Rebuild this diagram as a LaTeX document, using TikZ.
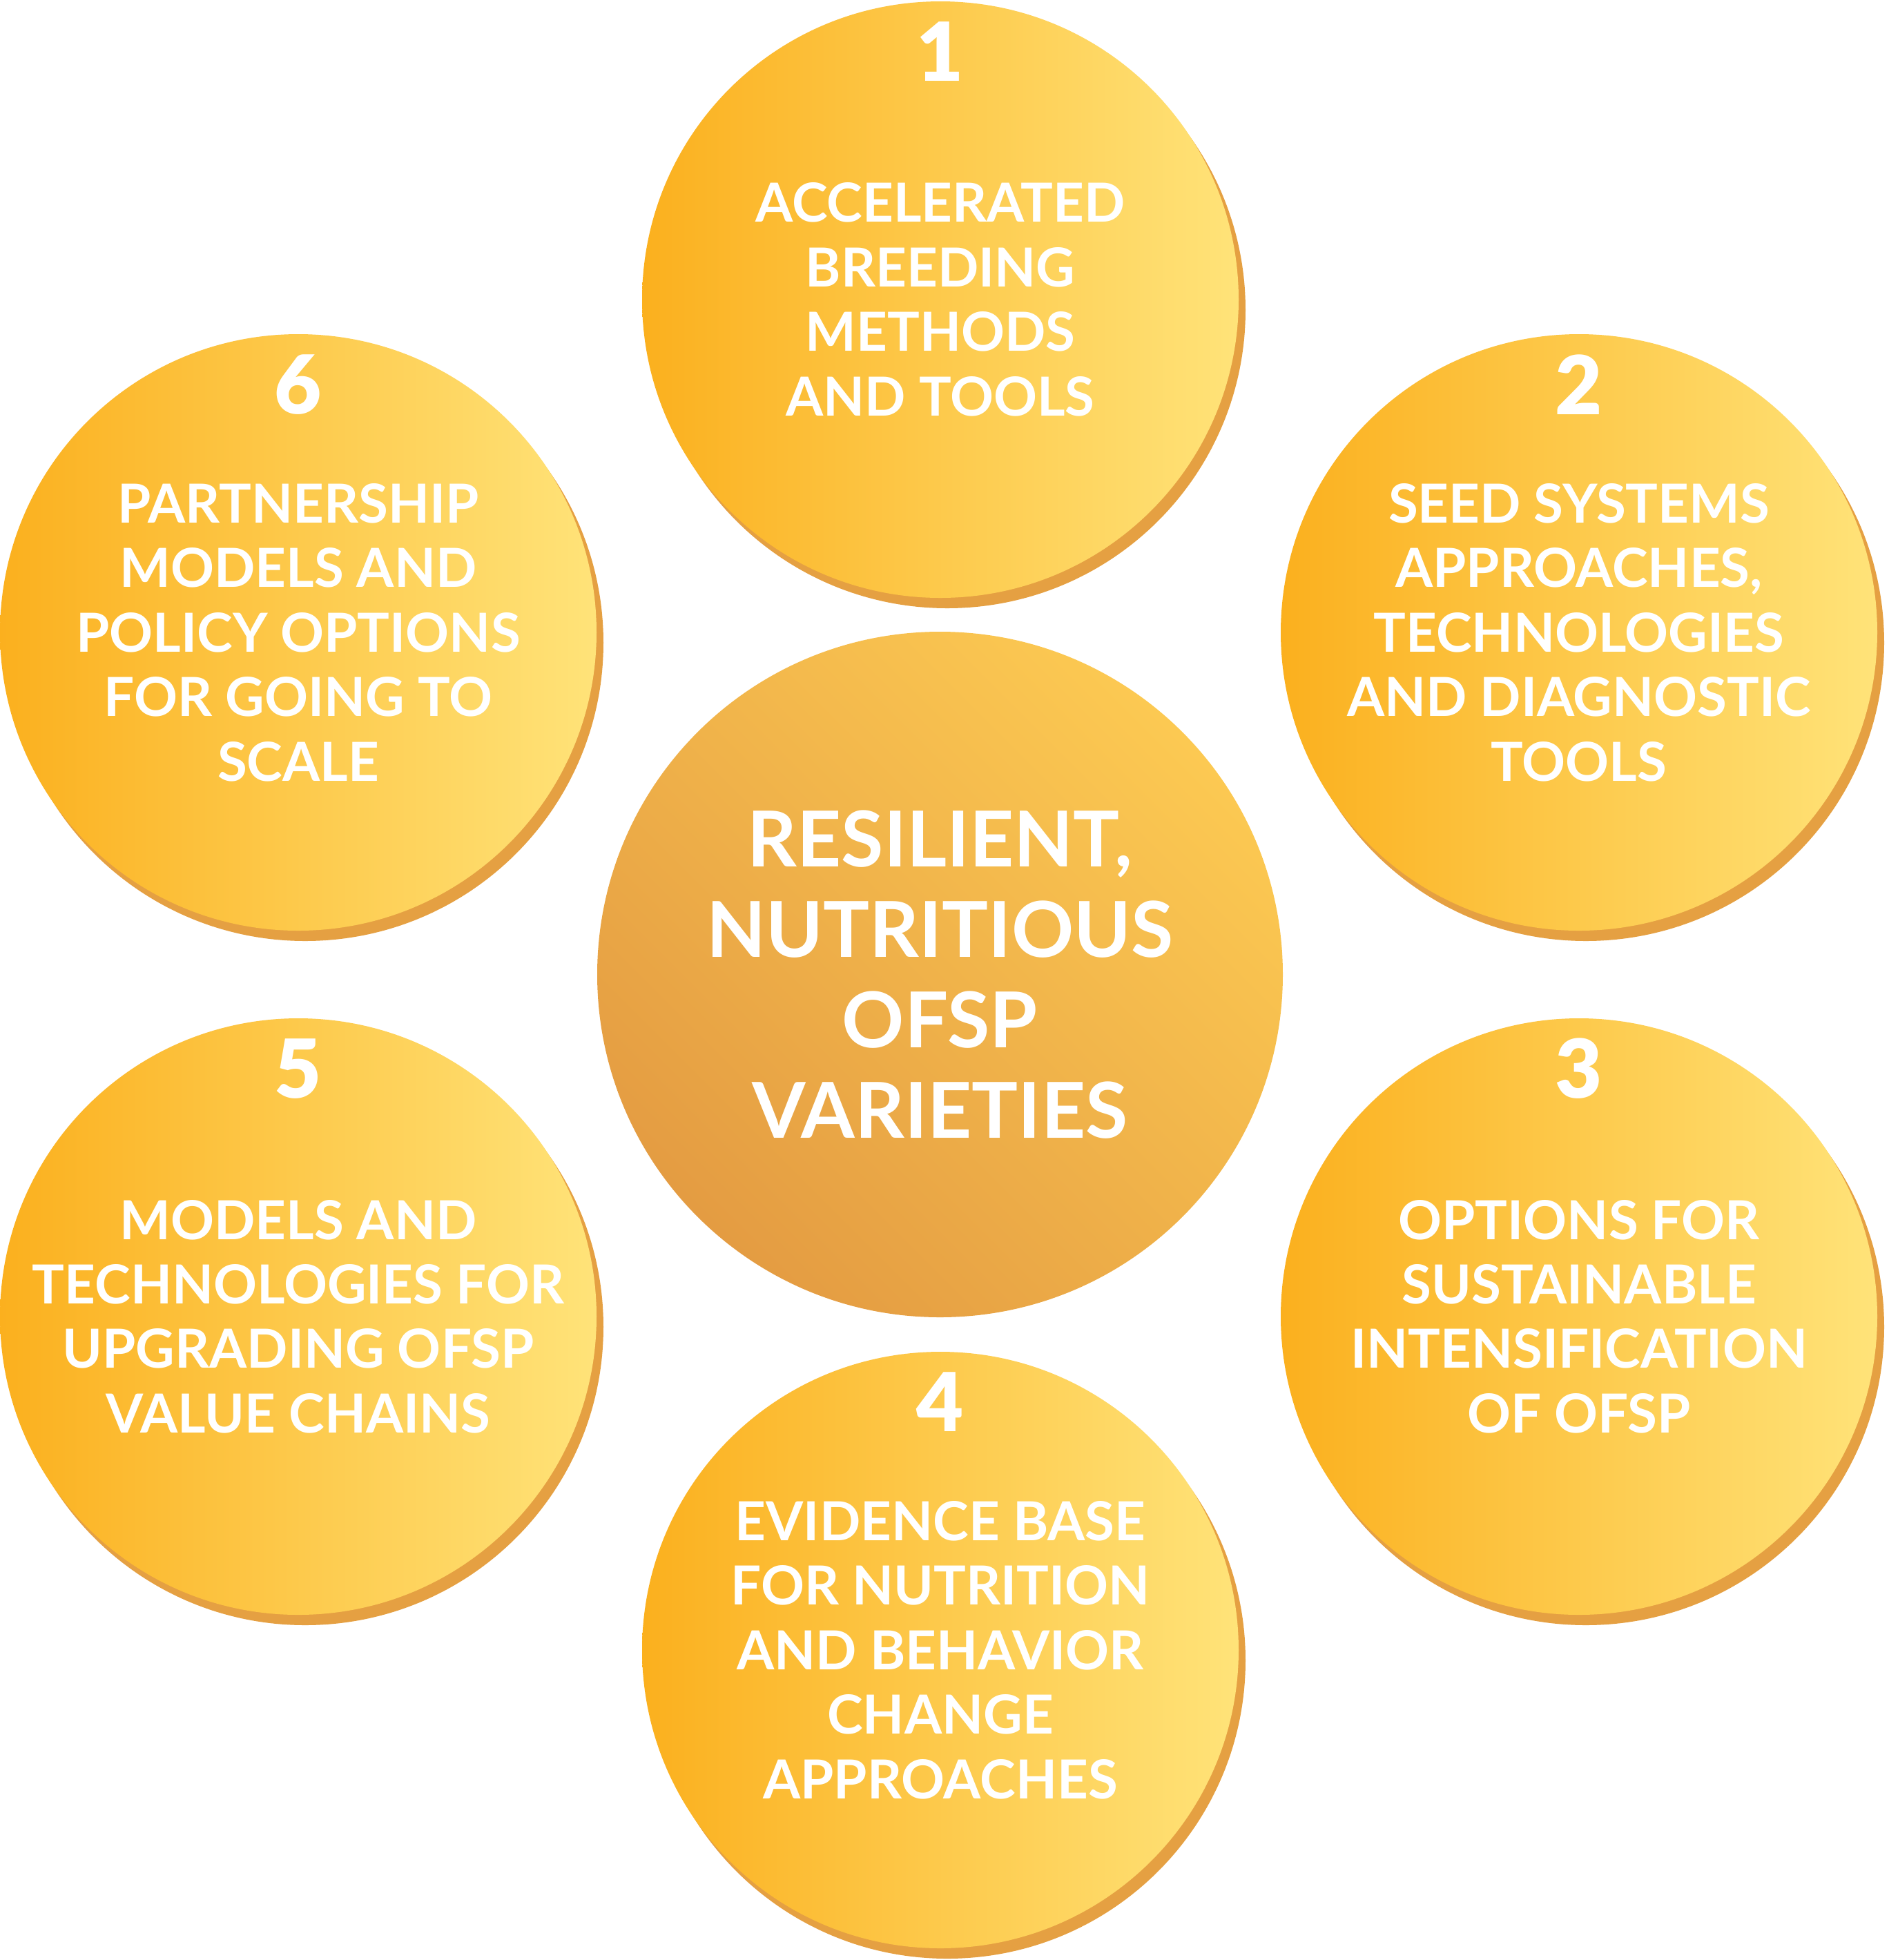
\documentclass[tikz,border=0pt]{standalone}
\usepackage{fontspec}
\setmainfont{Lato}
\newfontfamily\heavyfont{Lato Black}
\usetikzlibrary{shadows}

\definecolor{ylwdeep}{RGB}{251,176,30}
\definecolor{ylwpale}{RGB}{255,227,121}
\definecolor{rimorange}{RGB}{229,160,66}
\definecolor{hubdark}{RGB}{228,156,66}
\definecolor{hublight}{RGB}{252,201,82}

\tikzset{
  bubble/.style={circle, minimum size=8.64cm, inner sep=0pt,
    left color=ylwdeep, right color=ylwpale},
  rim/.style={fill=rimorange},
  hubdisc/.style={circle, minimum size=9.93cm, inner sep=0pt,
    top color=hublight, bottom color=hubdark, shading angle=-45},
  caption/.style={text=white, align=center, inner sep=0pt,
    font=\bfseries\fontsize{22.2}{26.6}\selectfont},
  hubcaption/.style={text=white, align=center, inner sep=0pt,
    font=\bfseries\fontsize{31.8}{37.3}\selectfont},
  num/.style={text=white, inner sep=0pt,
    font=\heavyfont\fontsize{33.5}{34}\selectfont}
}

\begin{document}
\begin{tikzpicture}

    \useasboundingbox (0,0) rectangle (27.36,-28.39);

    % Rims behind the bubbles
    \fill[rim] (13.72,-4.49) circle[radius=4.32cm];
    \fill[rim] (22.97,-9.31) circle[radius=4.32cm];
    \fill[rim] (22.97,-19.22) circle[radius=4.32cm];
    \fill[rim] (13.72,-24.05) circle[radius=4.32cm];
    \fill[rim] (4.42,-19.22) circle[radius=4.32cm];
    \fill[rim] (4.42,-9.31) circle[radius=4.32cm];

    % Centre
    \node[hubdisc] (core) at (13.615,-14.115) {};
    \node[hubcaption] (coretext) at (core) {RESILIENT,\\NUTRITIOUS\\OFSP\\VARIETIES};

    % First bubble
    \node[bubble] (b1) at (13.62,-4.34) {};
    \node[num] (n1) at ([yshift=3.59cm]b1.center) {1};
    \node[caption] (t1) at (b1) {ACCELERATED\\BREEDING\\METHODS\\AND TOOLS};

    % Second bubble
    \node[bubble] (b2) at (22.87,-9.16) {};
    \node[num] (n2) at ([yshift=3.59cm]b2.center) {2};
    \node[caption] (t2) at (b2) {SEED SYSTEMS\\APPROACHES,\\TECHNOLOGIES\\AND DIAGNOSTIC\\TOOLS};

    % Third bubble
    \node[bubble] (b3) at (22.87,-19.07) {};
    \node[num] (n3) at ([yshift=3.59cm]b3.center) {3};
    \node[caption] (t3) at (b3) {OPTIONS FOR\\SUSTAINABLE\\INTENSIFICATION\\OF OFSP};

    % Fourth bubble
    \node[bubble] (b4) at (13.62,-23.90) {};
    \node[num] (n4) at ([yshift=3.59cm]b4.center) {4};
    \node[caption] (t4) at (b4) {EVIDENCE BASE\\FOR NUTRITION\\AND BEHAVIOR\\CHANGE\\APPROACHES};

    % Fifth bubble
    \node[bubble] (b5) at (4.32,-19.07) {};
    \node[num] (n5) at ([yshift=3.59cm]b5.center) {5};
    \node[caption] (t5) at (b5) {MODELS AND\\TECHNOLOGIES FOR\\UPGRADING OFSP\\VALUE CHAINS};

    % Sixth bubble
    \node[bubble] (b6) at (4.32,-9.16) {};
    \node[num] (n6) at ([yshift=3.59cm]b6.center) {6};
    \node[caption] (t6) at (b6) {PARTNERSHIP\\MODELS AND\\POLICY OPTIONS\\FOR GOING TO\\SCALE};

\end{tikzpicture}
\end{document}
